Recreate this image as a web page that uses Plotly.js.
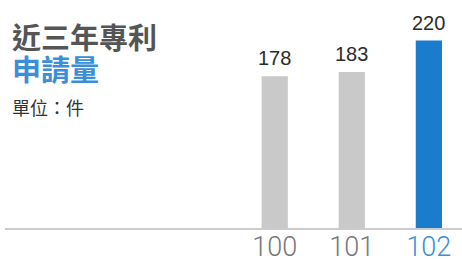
<!DOCTYPE html>
<html><head><meta charset="utf-8">
<script src="https://cdn.plot.ly/plotly-3.0.1.min.js"></script>
<style>html,body{margin:0;padding:0;background:#fff}#chart{width:462px;height:259px}</style>
</head><body><div id="chart"></div>
<script>
const categories = ['100', '101', '102'];
const values = [178, 183, 220];
const barColors = ['#c9c9c9', '#c9c9c9', '#1a7ccc'];
const tickColors = ['#777777', '#777777', '#3a8fd8'];
const titleLine1 = '近三年專利';
const titleLine2 = '申請量';
const unitLabel = '單位：件';

const cjk = '"Noto Sans CJK TC", "Noto Sans CJK SC", sans-serif';
const num = '"Liberation Sans Narrow", "Arial Narrow", Arial, "Liberation Sans", sans-serif';
const tickFam = 'Roboto, Arial, sans-serif';

const trace = {
  type: 'bar', x: categories, y: values,
  marker: {color: barColors, line: {width: 0}},
  width: 0.34, hoverinfo: 'none'
};

const annotations = values.map((v, i) => ({
  x: i, y: v, xref: 'x', yref: 'y', text: String(v),
  showarrow: false, yanchor: 'bottom', yshift: 5,
  font: {family: num, size: 20, color: '#2b2b2b'}
}));
annotations.push(
  {xref: 'paper', yref: 'paper', x: 0.012, y: 1.01, xanchor: 'left', yanchor: 'top',
   text: '<b>' + titleLine1 + '</b>', showarrow: false,
   font: {family: cjk, size: 29, color: '#555555'}},
  {xref: 'paper', yref: 'paper', x: 0.012, y: 0.859, xanchor: 'left', yanchor: 'top',
   text: '<b>' + titleLine2 + '</b>', showarrow: false,
   font: {family: cjk, size: 29, color: '#3a8fd8'}},
  {xref: 'paper', yref: 'paper', x: 0.012, y: 0.637, xanchor: 'left', yanchor: 'top',
   text: unitLabel, showarrow: false,
   font: {family: cjk, size: 18, color: '#333333'}}
);

const layout = {
  width: 462, height: 259,
  margin: {l: 5, r: 0, t: 15, b: 31, pad: 0},
  paper_bgcolor: '#ffffff', plot_bgcolor: '#ffffff',
  showlegend: false,
  xaxis: {
    type: 'category', range: [-3.5, 2.43], fixedrange: true,
    showline: true, linecolor: '#cccccc', linewidth: 1.5,
    showgrid: false, zeroline: false, ticks: '',
    tickvals: categories, ticklabelstandoff: -6,
    ticktext: categories.map((c, i) => '<span style="color:' + tickColors[i] + '">' + c + '</span>'),
    tickfont: {family: tickFam, size: 27, weight: 300, color: '#777777'}
  },
  yaxis: {range: [0, 250], visible: false, fixedrange: true},
  annotations: annotations
};

Plotly.newPlot('chart', [trace], layout, {displayModeBar: false, staticPlot: true});
</script></body></html>
